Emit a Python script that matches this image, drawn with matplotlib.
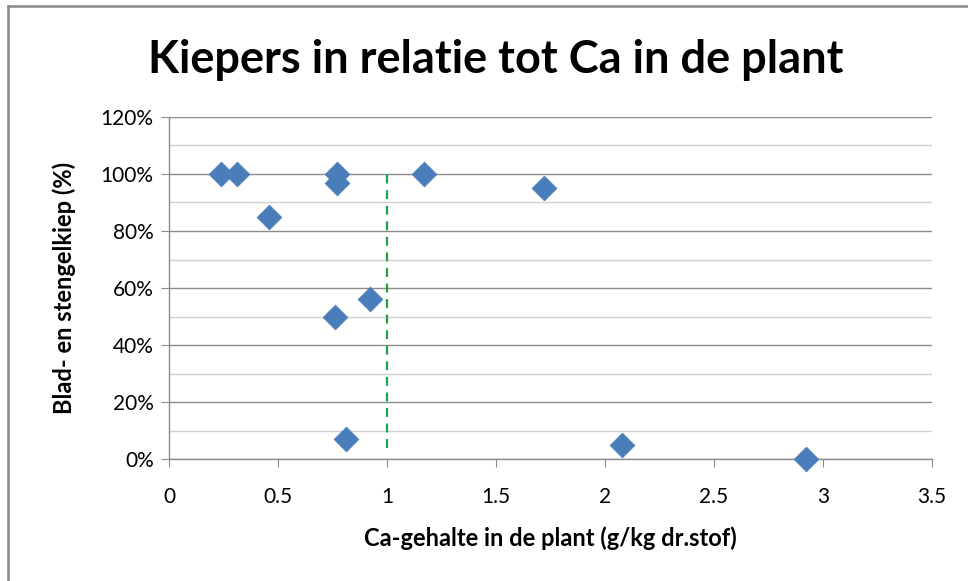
import matplotlib
matplotlib.use("Agg")
import matplotlib.pyplot as plt
from matplotlib.ticker import MultipleLocator, FuncFormatter
from matplotlib.lines import Line2D

# Ca content (g/kg dry matter) vs leaf/stem tipburn (%)
ca_gehalte = [0.24, 0.31, 0.46, 0.77, 0.77, 1.17, 1.72, 0.92, 0.76, 0.81, 2.08, 2.92]
kiep_pct = [100, 100, 85, 100, 97, 100, 95, 56, 50, 7, 5, 0]

# reference line at Ca = 1
ref_x = [1.0, 1.0]
ref_y = [4, 100]

plt.rcParams['font.family'] = ['Lato', 'DejaVu Sans']

fig = plt.figure(figsize=(9.68, 5.81), dpi=100)
ax = fig.add_axes([169/968, 1 - 459/581, (932 - 169)/968, (459 - 117)/581])

ax.scatter(ca_gehalte, kiep_pct, marker='D', s=160, color='#4a7ebb',
           edgecolors='#4a7ebb', linewidths=0.5, zorder=3, clip_on=False)
ax.plot(ref_x, ref_y, color='#1fa34a', linestyle=(0, (4, 3)), linewidth=1.6, zorder=2)

ax.set_xlim(0, 3.5)
ax.set_ylim(0, 120)
ax.xaxis.set_major_locator(MultipleLocator(0.5))
ax.yaxis.set_major_locator(MultipleLocator(20))
ax.yaxis.set_minor_locator(MultipleLocator(10))
ax.xaxis.set_major_formatter(FuncFormatter(lambda v, p: f"{v:g}"))
ax.yaxis.set_major_formatter(FuncFormatter(lambda v, p: f"{v:.0f}%"))

ax.grid(True, axis='y', which='major', color='#8c8c8c', linewidth=1.0)
ax.grid(True, axis='y', which='minor', color='#d0d0d0', linewidth=1.0)
ax.set_axisbelow(True)

for s in ['top', 'right']:
    ax.spines[s].set_visible(False)
for s in ['left', 'bottom']:
    ax.spines[s].set_color('#8c8c8c')
    ax.spines[s].set_linewidth(1.0)

ax.tick_params(axis='both', which='major', direction='out', length=6,
               color='#8c8c8c', labelsize=15, labelcolor='#000000', pad=5)
ax.tick_params(axis='y', which='minor', length=0)
ax.tick_params(axis='x', pad=14)

ax.set_xlabel('Ca-gehalte in de plant (g/kg dr.stof)', fontsize=17,
              fontweight='bold', labelpad=14)
ax.set_ylabel('Blad- en stengelkiep (%)', fontsize=17, fontweight='bold',
              labelpad=18)

fig.text(496/968, 1 - 60/581, 'Kiepers in relatie tot Ca in de plant',
         ha='center', va='center', fontsize=32.5, fontweight='bold')

# chart border (left and top edges visible)
fig.add_artist(Line2D([8/968, 8/968], [0, 1 - 6/581], transform=fig.transFigure,
                      color='#888888', linewidth=1.8))
fig.add_artist(Line2D([8/968, 1], [1 - 6/581, 1 - 6/581], transform=fig.transFigure,
                      color='#888888', linewidth=1.8))

fig.savefig('out.png', dpi=100)
